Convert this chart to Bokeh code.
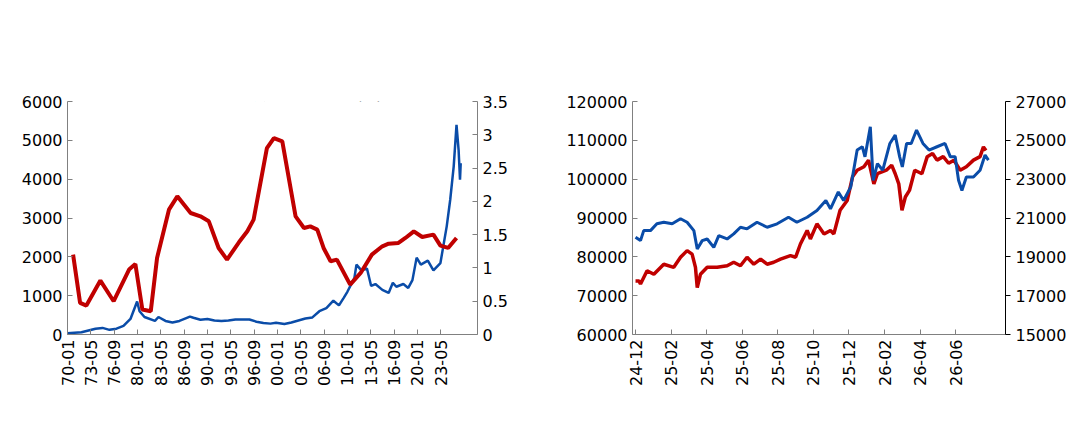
from math import pi
from bokeh.plotting import figure
from bokeh.models import Range1d, LinearAxis, Label, BoxAnnotation, FixedTicker, NumeralTickFormatter
from bokeh.layouts import row
from bokeh.embed import file_html
from bokeh.resources import INLINE

# ---------- data: left chart ----------
gold_x = [1970, 1972, 1974, 1975, 1976, 1977, 1978, 1979, 1979.95, 1980.3, 1981, 1982.5, 1983, 1984, 1985,
          1986, 1987.5, 1988, 1989, 1990, 1991, 1992, 1993, 1994, 1995, 1996, 1997, 1998, 1999, 1999.8,
          2001, 2002, 2003, 2004, 2005, 2006, 2007, 2008, 2008.8, 2009.5, 2010, 2011, 2011.3, 2012, 2012.8,
          2013.4, 2014, 2015, 2015.9, 2016.5, 2017, 2018, 2018.7, 2019.3, 2019.9, 2020.5, 2021.5, 2022.3,
          2023.3, 2024.2, 2024.7, 2025.2, 2025.6, 2025.9, 2026.1, 2026.2]
gold_y = [35, 60, 150, 170, 120, 150, 220, 400, 850, 600, 450, 350, 450, 350, 310,
          350, 460, 430, 380, 400, 360, 345, 360, 385, 385, 385, 330, 295, 280, 300,
          270, 310, 360, 410, 440, 600, 680, 870, 750, 950, 1100, 1450, 1800, 1650, 1700,
          1250, 1300, 1150, 1070, 1330, 1230, 1300, 1200, 1400, 1980, 1800, 1900, 1650,
          1840, 2785, 3470, 4330, 5400, 4750, 3985, 4414]
prod_x = [1970.8, 1971.8, 1972.7, 1974.7, 1976.6, 1978.8, 1979.7, 1980.7, 1981.9, 1982.8, 1984.5, 1985.7,
          1987.6, 1989, 1990.2, 1991.6, 1992.8, 1994.5, 1995.7, 1996.6, 1998.5, 1999.5, 2000.7, 2002.6,
          2003.8, 2004.7, 2005.7, 2006.6, 2007.6, 2008.5, 2010.4, 2011.9, 2013.5, 2015, 2015.9, 2017.3,
          2018.3, 2019.5, 2020.7, 2022.3, 2023.3, 2024.4, 2025.6]
prod_y = [1.2, 0.475, 0.435, 0.81, 0.5, 0.975, 1.06, 0.375, 0.35, 1.15, 1.875, 2.075,
          1.825, 1.775, 1.7, 1.3, 1.125, 1.385, 1.55, 1.725, 2.8, 2.95, 2.9, 1.775,
          1.6, 1.625, 1.575, 1.3, 1.1, 1.125, 0.75, 0.925, 1.2, 1.325, 1.365, 1.375,
          1.45, 1.55, 1.465, 1.5, 1.335, 1.3, 1.45]
left_ticks = [1970 + 40 * i / 12 for i in range(17)]
left_tick_labels = ["70-01", "73-05", "76-09", "80-01", "83-05", "86-09", "90-01", "93-05", "96-09",
                    "00-01", "03-05", "06-09", "10-01", "13-05", "16-09", "20-01", "23-05"]

# ---------- data: right chart (months since 2024-12) ----------
cu_x = [0, 0.19, 0.28, 0.65, 1.03, 1.59, 2.15, 2.53, 2.9, 3.18, 3.37, 3.47, 3.65, 4.03, 4.59, 5.15, 5.52,
        5.9, 6.27, 6.65, 7.03, 7.4, 7.77, 8.15, 8.71, 9.0, 9.27, 9.65, 9.83, 10.2, 10.6, 10.96, 11.15,
        11.5, 11.9, 12.2, 12.46, 12.84, 13.1, 13.4, 13.6, 14.1, 14.4, 14.6, 14.8, 14.98, 15.17, 15.4,
        15.7, 16.1, 16.4, 16.7, 16.95, 17.3, 17.6, 17.9, 18.25, 18.6, 19.0, 19.37, 19.56, 19.7]
cu_y = [73800, 73800, 73000, 76400, 75500, 78100, 77300, 79900, 81600, 80700, 77300, 72100, 75500, 77300,
        77300, 77700, 78600, 77700, 79900, 78100, 79400, 78100, 78600, 79400, 80300, 79900, 83300, 86800,
        84600, 88500, 85900, 86800, 85900, 92000, 94500, 100600, 102300, 103200, 104900, 98800, 101400,
        102300, 103600, 101400, 98800, 92000, 95400, 97100, 102300, 101400, 105800, 106600, 104900,
        105800, 104100, 104900, 102300, 103200, 104900, 105800, 108300, 107400]
al_x = [0, 0.28, 0.46, 0.84, 1.2, 1.59, 2.06, 2.53, 2.9, 3.28, 3.47, 3.75, 4.03, 4.4, 4.68, 5.15, 5.52,
        5.9, 6.27, 6.83, 7.4, 7.96, 8.6, 9.07, 9.65, 10.2, 10.7, 10.96, 11.4, 11.7, 12.1, 12.46, 12.75,
        12.9, 13.2, 13.36, 13.6, 13.9, 14.3, 14.6, 14.85, 15.0, 15.24, 15.5, 15.8, 16.16, 16.5, 16.95,
        17.4, 17.7, 17.97, 18.16, 18.35, 18.6, 19.0, 19.37, 19.65, 19.84]
al_y = [20007, 19835, 20350, 20350, 20700, 20780, 20700, 20960, 20780, 20350, 19400, 19835, 19920, 19490,
        20090, 19920, 20180, 20525, 20440, 20780, 20525, 20700, 21040, 20780, 21040, 21390, 21900, 21470,
        22340, 21900, 22600, 24500, 24670, 24150, 25700, 22940, 23800, 23460, 24840, 25270, 24150, 23630,
        24840, 24840, 25530, 24840, 24500, 24670, 24840, 24150, 24150, 22940, 22420, 23110, 23110, 23460,
        24240, 23980]
right_ticks = [0, 2, 4, 6, 8, 10, 12, 14, 16, 18]
right_tick_labels = ["24-12", "25-02", "25-04", "25-06", "25-08", "25-10", "25-12", "26-02", "26-04", "26-06"]

RED = "#c00000"
BLUE = "#0a4ca8"
NUM = "DejaVu Sans"
CJK = "Noto Sans CJK SC"
H = 440


def style_axis(ax):
    ax.axis_line_color = "#808080"
    ax.major_tick_line_color = "#808080"
    ax.minor_tick_line_color = None
    ax.major_label_text_font = NUM
    ax.major_label_text_font_size = "16px"
    ax.major_label_text_color = "#000000"
    ax.major_tick_in = 5
    ax.major_tick_out = 0


class Place:
    """converts page coordinates to frame-relative screen coordinates"""
    def __init__(self, p, frame_left_page, frame_bottom_page):
        self.p, self.fl, self.fb = p, frame_left_page, frame_bottom_page

    def lab(self, x, y, text, font=CJK, size="15px", color="#222222", style="normal"):
        self.p.add_layout(Label(x=x - self.fl, y=self.fb - y, x_units="screen", y_units="screen",
                                text=text, text_font=font, text_font_size=size, text_color=color,
                                text_font_style=style, text_baseline="middle", text_align="left"))

    def bar(self, x0, x1, y, color, th=2):
        self.p.add_layout(BoxAnnotation(left=x0 - self.fl, right=x1 - self.fl,
                                        bottom=self.fb - y - th / 2, top=self.fb - y + th / 2,
                                        left_units="screen", right_units="screen", bottom_units="screen",
                                        top_units="screen", fill_color=color, fill_alpha=1, line_color=None))


# ---------- left figure ----------
W1 = 540
p1 = figure(width=W1, height=H, output_backend="svg", toolbar_location=None,
            x_range=Range1d(1970, 2028.6), y_range=Range1d(0, 6000),
            min_border_left=67, min_border_right=63, min_border_top=101, min_border_bottom=105)
p1.extra_y_ranges = {"r": Range1d(0, 3.5)}
p1.outline_line_color = None
p1.xgrid.visible = False
p1.ygrid.visible = False
p1.line(gold_x, gold_y, color=BLUE, line_width=2.5)
p1.line(prod_x, prod_y, color=RED, line_width=4, y_range_name="r")
ra = LinearAxis(y_range_name="r")
ra.ticker = FixedTicker(ticks=[0, 0.5, 1, 1.5, 2, 2.5, 3, 3.5])
p1.add_layout(ra, "right")
p1.yaxis[0].ticker = FixedTicker(ticks=[0, 1000, 2000, 3000, 4000, 5000, 6000])
p1.xaxis.ticker = FixedTicker(ticks=left_ticks)
p1.xaxis.major_label_overrides = {t: s for t, s in zip(left_ticks, left_tick_labels)}
p1.xaxis.major_label_orientation = pi / 2
for ax in p1.xaxis + p1.yaxis:
    style_axis(ax)

g1 = Place(p1, 67, 335)
g1.lab(22, 14, "图表48：历史上生产率提升会对金价形成一定压制", size="15px", color="#d0342c", style="italic")
g1.bar(4, 511, 31, RED, 2)
g1.bar(4, 511, 412, RED, 2)
g1.lab(22, 425, "资料来源：Wind，国盛证券研究所，数据截至 2026 年 8 月 14 日", size="15px",
       color="#d0342c", style="italic")
g1.lab(22, 61, "美元/盎司")
g1.lab(482, 62, "%", font=NUM, size="16px")
g1.bar(125, 165, 61, BLUE, 4)
g1.lab(168, 61, "现货价(伦敦市场):黄金")
g1.bar(125, 165, 93, RED, 4)
g1.lab(168, 93, "美国:潜在劳动力生产率:同比(右)")

# ---------- right figure ----------
W2 = 538
p2 = figure(width=W2, height=H, output_backend="svg", toolbar_location=None,
            x_range=Range1d(-0.17, 20.8), y_range=Range1d(60000, 120000),
            min_border_left=92, min_border_right=73, min_border_top=101, min_border_bottom=106)
p2.extra_y_ranges = {"r": Range1d(15000, 27000)}
p2.outline_line_color = None
p2.xgrid.visible = False
p2.ygrid.visible = False
p2.line(cu_x, cu_y, color=RED, line_width=3.5)
p2.line(al_x, al_y, color=BLUE, line_width=3, y_range_name="r")
ra2 = LinearAxis(y_range_name="r")
ra2.ticker = FixedTicker(ticks=[15000, 17000, 19000, 21000, 23000, 25000, 27000])
p2.add_layout(ra2, "right")
p2.yaxis[0].ticker = FixedTicker(ticks=[60000, 70000, 80000, 90000, 100000, 110000, 120000])
p2.xaxis.ticker = FixedTicker(ticks=right_ticks)
p2.xaxis.major_label_overrides = {t: s for t, s in zip(right_ticks, right_tick_labels)}
p2.xaxis.major_label_orientation = pi / 2
for ax in p2.xaxis + p2.yaxis:
    style_axis(ax)
    ax.formatter = NumeralTickFormatter(format="0")
ra2.major_tick_in = 0
ra2.major_tick_out = 5
ra2.axis_line_color = "#000000"
ra2.major_tick_line_color = "#000000"

g2 = Place(p2, 632 - W1, 334)
g2.lab(565 - W1, 14, "图表49：铜价中枢震荡偏强运行", size="15px", color="#d0342c", style="italic")
g2.bar(551 - W1, 1078 - W1, 31, RED, 2)
g2.bar(551 - W1, 1078 - W1, 412, RED, 2)
g2.lab(565 - W1, 425, "资料来源：Wind，国盛证券研究所，数据截至 2026 年 8 月 14 日", size="15px",
       color="#d0342c", style="italic")
g2.lab(583 - W1, 68, "点")
g2.lab(1023 - W1, 68, "点")
g2.bar(622 - W1, 660 - W1, 61, RED, 5)
g2.lab(666 - W1, 61, "沪铜指数:收盘价")
g2.bar(808 - W1, 848 - W1, 61, BLUE, 5)
g2.lab(853 - W1, 61, "沪铝指数:收盘价(右)")

layout = row(p1, p2)
open("out.html", "w").write(file_html(layout, INLINE))
